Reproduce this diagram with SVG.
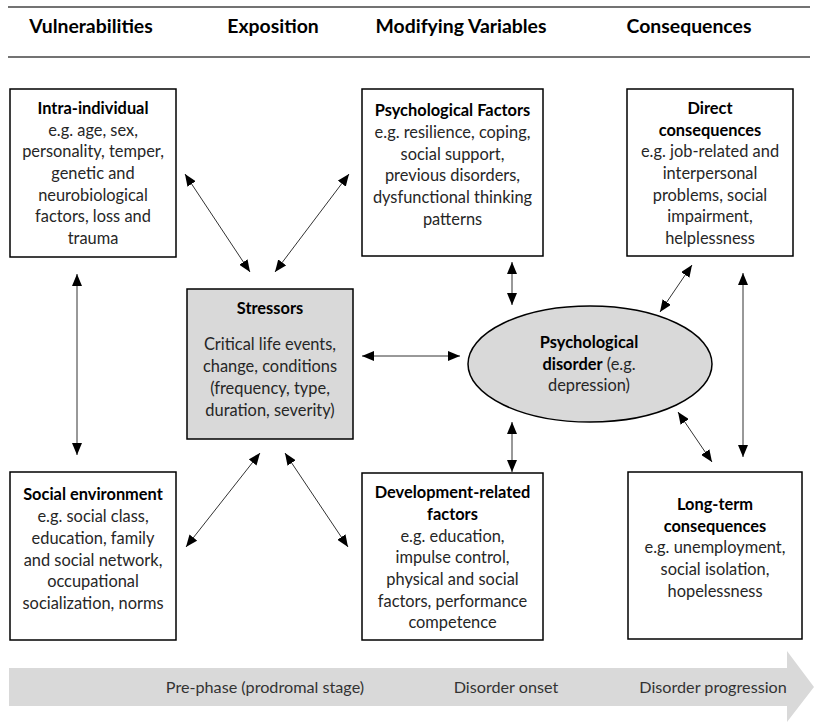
<svg xmlns="http://www.w3.org/2000/svg" width="814" height="722" viewBox="0 0 814 722">
<defs>
<style>
text{font-family:Lato,"Open Sans","Liberation Sans",sans-serif;font-size:16.4px;fill:#262626;text-anchor:middle}
.b{font-weight:bold;fill:#000}
.h{font-weight:bold;font-size:19.4px;fill:#000}
.p{font-size:16.2px;fill:#333}
.box{fill:#fff;stroke:#000;stroke-width:1.5}
.g{fill:#d9d9d9;stroke:#000;stroke-width:1.5}
.c{stroke:#333;stroke-width:1;fill:none;marker-start:url(#ah);marker-end:url(#ah)}
.rule{stroke:#444;stroke-width:1.5}
</style>
<marker id="ah" viewBox="0 0 12 10" refX="12" refY="5" markerWidth="12" markerHeight="10" markerUnits="userSpaceOnUse" orient="auto-start-reverse">
<path d="M0,0 L12,5 L0,10 z" fill="#000"/>
</marker>
</defs>
<rect width="814" height="722" fill="#fff"/>
<g id="header">
<line class="rule" x1="8" y1="7" x2="810" y2="7"/>
<line class="rule" x1="8" y1="57" x2="810" y2="57"/>
<text class="h" x="91" y="33">Vulnerabilities</text>
<text class="h" x="273" y="33">Exposition</text>
<text class="h" x="461" y="33">Modifying Variables</text>
<text class="h" x="689" y="33">Consequences</text>
</g>
<g id="intra">
<rect class="box" x="10" y="89" width="166" height="168"/>
<text class="b" x="93" y="114">Intra-individual</text>
<text x="93" y="136">e.g. age, sex,</text>
<text x="93" y="157">personality, temper,</text>
<text x="93" y="179">genetic and</text>
<text x="93" y="201">neurobiological</text>
<text x="93" y="222">factors, loss and</text>
<text x="93" y="244">trauma</text>
</g>
<g id="psych">
<rect class="box" x="362" y="89" width="181" height="167"/>
<text class="b" x="452.5" y="116">Psychological Factors</text>
<text x="452.5" y="138">e.g. resilience, coping,</text>
<text x="452.5" y="160">social support,</text>
<text x="452.5" y="181">previous disorders,</text>
<text x="452.5" y="203">dysfunctional thinking</text>
<text x="452.5" y="225">patterns</text>
</g>
<g id="direct">
<rect class="box" x="627" y="89" width="166" height="167"/>
<text class="b" x="710" y="114">Direct</text>
<text class="b" x="710" y="136">consequences</text>
<text x="710" y="157">e.g. job-related and</text>
<text x="710" y="179">interpersonal</text>
<text x="710" y="201">problems, social</text>
<text x="710" y="222">impairment,</text>
<text x="710" y="244">helplessness</text>
</g>
<g id="stressors">
<rect class="g" x="187" y="289" width="166" height="150"/>
<text class="b" x="270" y="314">Stressors</text>
<text x="270" y="350">Critical life events,</text>
<text x="270" y="372">change, conditions</text>
<text x="270" y="394">(frequency, type,</text>
<text x="270" y="416">duration, severity)</text>
</g>
<g id="disorder">
<ellipse class="g" cx="590" cy="364" rx="122" ry="58"/>
<text class="b" x="589" y="348">Psychological</text>
<text x="589" y="370"><tspan class="b">disorder</tspan> (e.g.</text>
<text x="589" y="391">depression)</text>
</g>
<g id="social">
<rect class="box" x="10" y="472" width="166" height="168"/>
<text class="b" x="93" y="500">Social environment</text>
<text x="93" y="522">e.g. social class,</text>
<text x="93" y="544">education, family</text>
<text x="93" y="566">and social network,</text>
<text x="93" y="587">occupational</text>
<text x="93" y="609">socialization, norms</text>
</g>
<g id="development">
<rect class="box" x="362" y="473" width="181" height="167"/>
<text class="b" x="452.5" y="498">Development-related</text>
<text class="b" x="452.5" y="520">factors</text>
<text x="452.5" y="542">e.g. education,</text>
<text x="452.5" y="563">impulse control,</text>
<text x="452.5" y="585">physical and social</text>
<text x="452.5" y="607">factors, performance</text>
<text x="452.5" y="628">competence</text>
</g>
<g id="longterm">
<rect class="box" x="628" y="472" width="174" height="167"/>
<text class="b" x="715" y="510">Long-term</text>
<text class="b" x="715" y="532">consequences</text>
<text x="715" y="553">e.g. unemployment,</text>
<text x="715" y="575">social isolation,</text>
<text x="715" y="597">hopelessness</text>
</g>
<g id="connectors">
<line class="c" x1="185" y1="174" x2="250" y2="272"/>
<line class="c" x1="349" y1="174" x2="275" y2="272"/>
<line class="c" x1="260" y1="453" x2="186" y2="547"/>
<line class="c" x1="285" y1="453" x2="348" y2="547"/>
<line class="c" x1="77" y1="274" x2="77" y2="455"/>
<line class="c" x1="362" y1="356" x2="460" y2="356"/>
<line class="c" x1="512" y1="262" x2="512" y2="305"/>
<line class="c" x1="512" y1="422" x2="512" y2="472"/>
<line class="c" x1="692" y1="265" x2="660" y2="312"/>
<line class="c" x1="678" y1="412" x2="712" y2="462"/>
<line class="c" x1="743" y1="273" x2="743" y2="457"/>
</g>
<g id="timeline">
<path d="M9,668 L787,668 L787,651 L814,687 L787,722 L787,706 L9,706 z" fill="#d9d9d9"/>
<text class="p" x="265" y="693">Pre-phase (prodromal stage)</text>
<text class="p" x="506" y="693">Disorder onset</text>
<text class="p" x="713" y="693">Disorder progression</text>
</g>
</svg>
